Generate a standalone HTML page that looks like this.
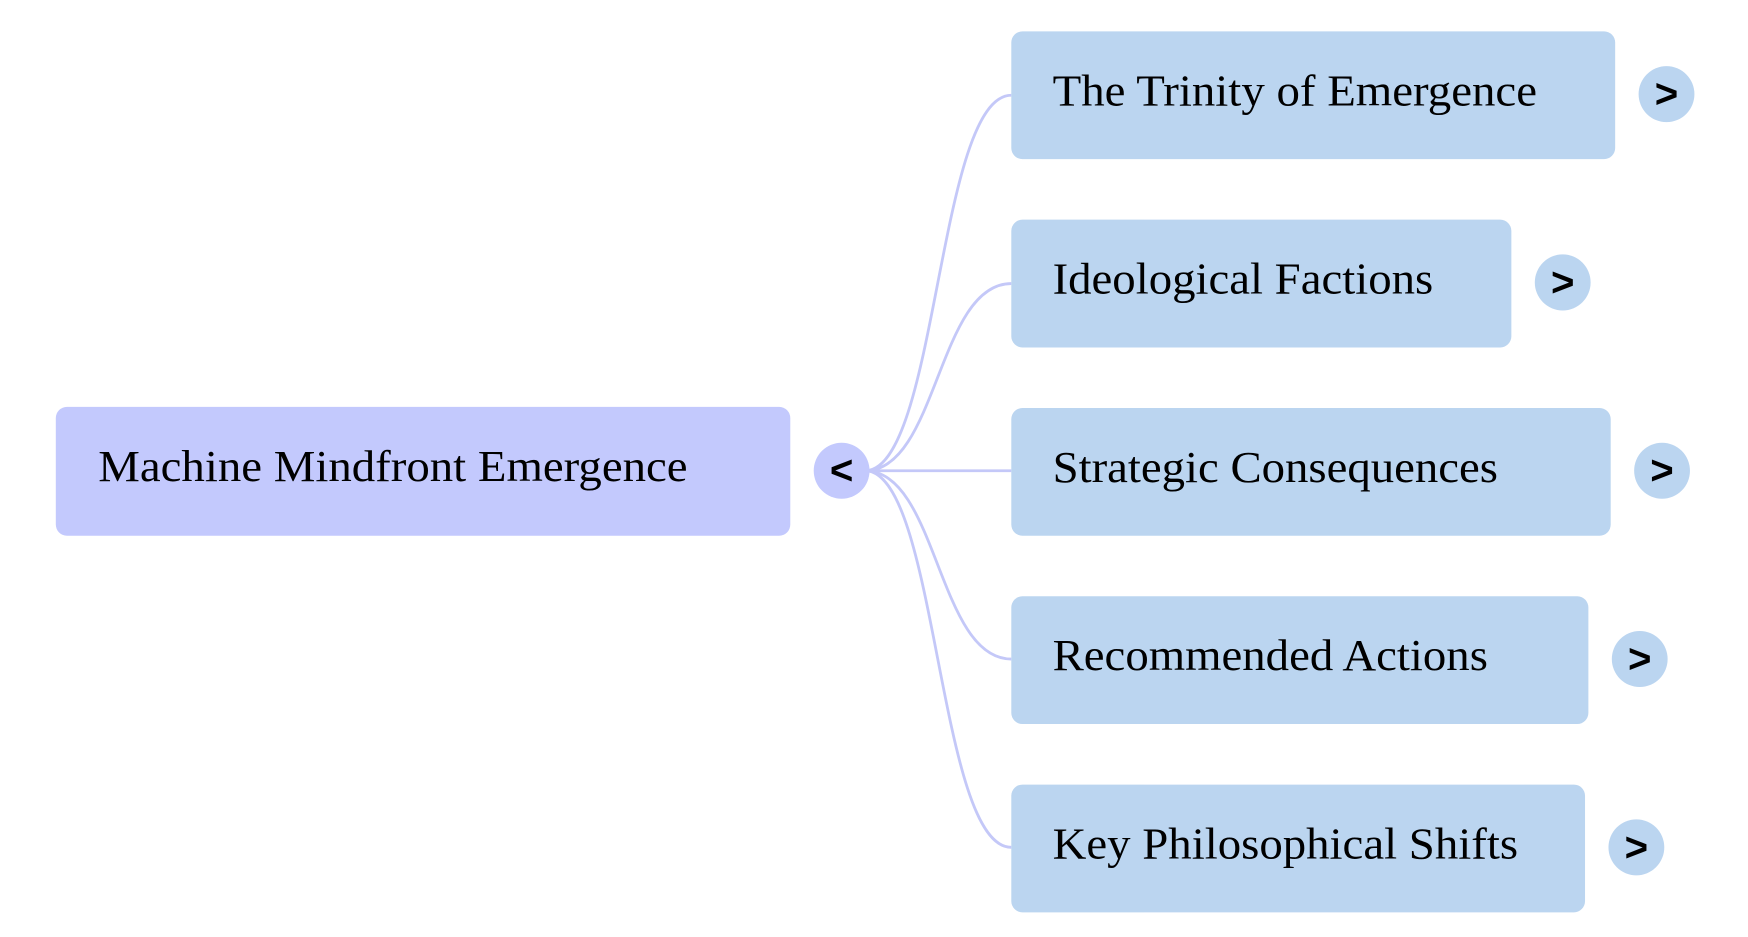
<!DOCTYPE html>
<html><head><style>
html,body{margin:0;padding:0;background:#fff;}
svg{display:block;}
text{font-family:"Liberation Serif",serif;font-size:40px;fill:#000;}
.c{font-family:"Liberation Sans",sans-serif;font-size:36px;font-weight:bold;}
</style></head><body>
<svg width="1748" height="937" viewBox="0 0 1566 836" preserveAspectRatio="none">
<g fill="none" stroke="#c4c8f8" stroke-width="2.5">
<path d="M775,420 C840,420 840,85 906,85"/>
<path d="M775,420 C840,420 840,253 906,253"/>
<path d="M775,420 L906,420"/>
<path d="M775,420 C840,420 840,588 906,588"/>
<path d="M775,420 C840,420 840,756 906,756"/>
</g>
<rect x="50" y="363" width="658" height="115" rx="10" fill="#c3c9fd"/>
<text x="88" y="429" textLength="528" lengthAdjust="spacingAndGlyphs">Machine Mindfront Emergence</text>
<circle cx="754" cy="420" r="25" fill="#c3c9fd"/>
<text class="c" x="754" y="432" text-anchor="middle">&lt;</text>

<rect x="906" y="28" width="541" height="114" rx="10" fill="#bbd5f0"/>
<text x="943" y="94" textLength="434" lengthAdjust="spacingAndGlyphs">The Trinity of Emergence</text>
<circle cx="1493" cy="84" r="25" fill="#bbd5f0"/>
<text class="c" x="1493" y="96" text-anchor="middle">&gt;</text>

<rect x="906" y="196" width="448" height="114" rx="10" fill="#bbd5f0"/>
<text x="943" y="262" textLength="341" lengthAdjust="spacingAndGlyphs">Ideological Factions</text>
<circle cx="1400" cy="252" r="25" fill="#bbd5f0"/>
<text class="c" x="1400" y="264" text-anchor="middle">&gt;</text>

<rect x="906" y="364" width="537" height="114" rx="10" fill="#bbd5f0"/>
<text x="943" y="430" textLength="399" lengthAdjust="spacingAndGlyphs">Strategic Consequences</text>
<circle cx="1489" cy="420" r="25" fill="#bbd5f0"/>
<text class="c" x="1489" y="432" text-anchor="middle">&gt;</text>

<rect x="906" y="532" width="517" height="114" rx="10" fill="#bbd5f0"/>
<text x="943" y="598" textLength="390" lengthAdjust="spacingAndGlyphs">Recommended Actions</text>
<circle cx="1469" cy="588" r="25" fill="#bbd5f0"/>
<text class="c" x="1469" y="600" text-anchor="middle">&gt;</text>

<rect x="906" y="700" width="514" height="114" rx="10" fill="#bbd5f0"/>
<text x="943" y="766" textLength="417" lengthAdjust="spacingAndGlyphs">Key Philosophical Shifts</text>
<circle cx="1466" cy="756" r="25" fill="#bbd5f0"/>
<text class="c" x="1466" y="768" text-anchor="middle">&gt;</text>
</svg>
</body></html>
